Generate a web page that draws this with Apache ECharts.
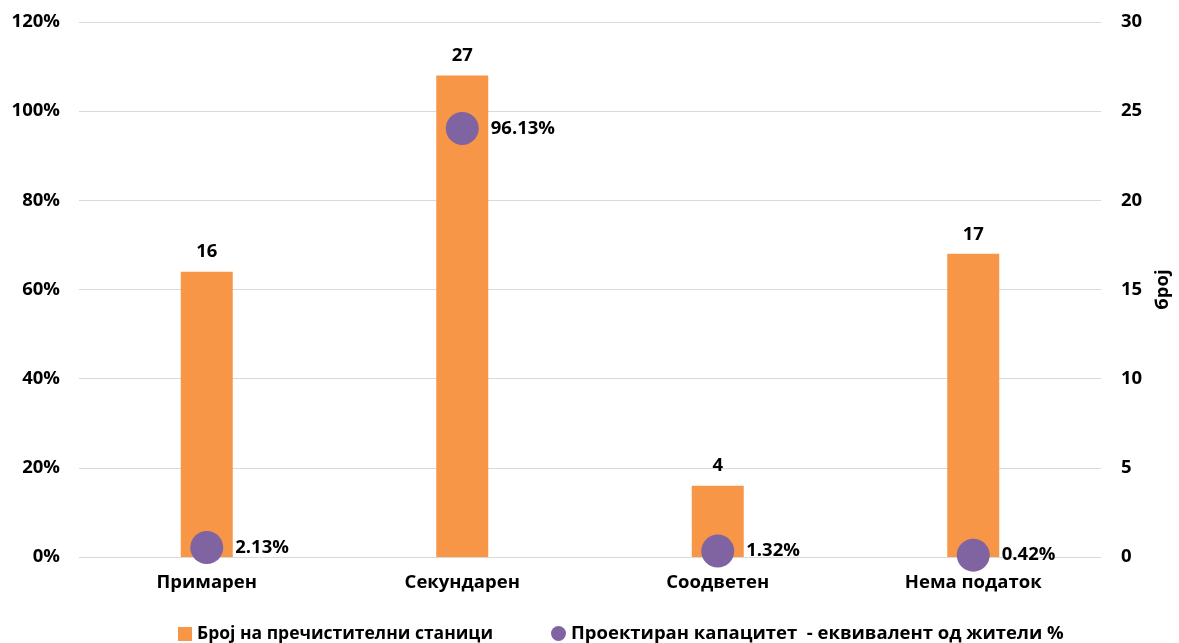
<!DOCTYPE html>
<html><head><meta charset="utf-8">
<script src="https://cdn.jsdelivr.net/npm/echarts@6/dist/echarts.min.js"></script>
<style>html,body{margin:0;padding:0;background:#fff;overflow:hidden}#c{width:1179px;height:643px}</style>
</head><body><div id="c"></div>
<script>
const categories = ['Примарен', 'Секундарен', 'Соодветен', 'Нема податок'];
const stationCounts = [16, 27, 4, 17];
const capacityPercent = [2.13, 96.13, 1.32, 0.42];
const barName = 'Број на пречистителни станици';
const scatterName = 'Проектиран капацитет  - еквивалент од жители %';
const rightAxisName = 'број';

const FONT = 'Open Sans';
const FS = 18.5;
const chart = echarts.init(document.getElementById('c'));
chart.setOption({
  animation: false,
  textStyle: { fontFamily: FONT },
  grid: { left: 79, right: 78, top: 22, bottom: 86, containLabel: false, outerBoundsMode: 'none' },
  legend: [
    { top: 620, left: 173, itemWidth: 14, itemHeight: 14, itemGap: 4,
      textStyle: { fontFamily: FONT, fontWeight: 'bold', fontSize: 17.5, color: '#000' },
      data: [{ name: barName, icon: 'rect' }] },
    { top: 619, left: 546, itemWidth: 15, itemHeight: 15, itemGap: 4,
      textStyle: { fontFamily: FONT, fontWeight: 'bold', fontSize: 18.5, color: '#000' },
      data: [{ name: scatterName, icon: 'circle' }] }
  ],
  xAxis: {
    type: 'category', data: categories,
    axisLine: { show: false }, axisTick: { show: false },
    axisLabel: { color: '#000', fontWeight: 'bold', fontSize: FS, margin: 16, fontFamily: FONT }
  },
  yAxis: [
    {
      type: 'value', min: 0, max: 120, interval: 20, position: 'left',
      axisLabel: { formatter: '{value}%', color: '#000', fontWeight: 'bold', fontSize: FS, margin: 19, fontFamily: FONT },
      axisLine: { show: false }, axisTick: { show: false },
      splitLine: { lineStyle: { color: '#d9d9d9', width: 1 } }
    },
    {
      type: 'value', min: 0, max: 30, interval: 5, position: 'right',
      name: rightAxisName, nameLocation: 'middle', nameGap: 51,
      nameTextStyle: { color: '#000', fontWeight: 'bold', fontSize: FS, fontFamily: FONT },
      axisLabel: { color: '#000', fontWeight: 'bold', fontSize: FS, margin: 20, fontFamily: FONT },
      axisLine: { show: false }, axisTick: { show: false },
      splitLine: { show: false }
    }
  ],
  series: [
    {
      name: barName, type: 'bar', yAxisIndex: 1, data: stationCounts, barWidth: 52,
      itemStyle: { color: '#F79646' },
      label: { show: true, position: 'top', distance: 10, color: '#000', fontWeight: 'bold', fontSize: FS, fontFamily: FONT }
    },
    {
      name: scatterName, type: 'scatter', yAxisIndex: 0, data: capacityPercent, symbolSize: 33,
      itemStyle: { color: '#8064A2', opacity: 1 }, z: 5,
      label: { show: true, position: 'right', distance: 12, formatter: p => p.value.toFixed(2) + '%',
        color: '#000', fontWeight: 'bold', fontSize: FS, fontFamily: FONT }
    }
  ]
});
</script></body></html>
